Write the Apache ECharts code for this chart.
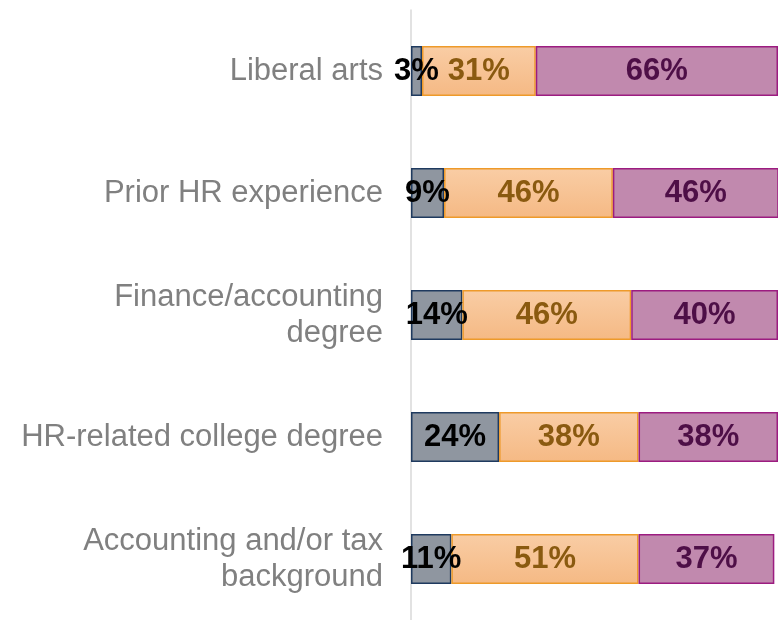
<!DOCTYPE html>
<html>
<head>
<meta charset="utf-8">
<script src="https://cdn.jsdelivr.net/npm/echarts@6/dist/echarts.min.js"></script>
<style>
  html, body { margin: 0; padding: 0; background: #fff; }
  #chart { width: 778px; height: 620px; }
</style>
</head>
<body>
<div id="chart"></div>
<script>
const categories = [
  'Liberal arts',
  'Prior HR experience',
  'Finance/accounting\ndegree',
  'HR-related college degree',
  'Accounting and/or tax\nbackground'
];
const seriesA = [3, 9, 14, 24, 11];
const seriesB = [31, 46, 46, 38, 51];
const seriesC = [66, 46, 40, 38, 37];

const labelBase = {
  show: true,
  position: 'inside',
  fontFamily: 'Liberation Sans, Arial, sans-serif',
  fontSize: 31,
  fontWeight: 'bold',
  formatter: '{c}%'
};

var myChart = echarts.init(document.getElementById('chart'));

var option = {
  animation: false,
  grid: { left: 411, right: -3, top: 10, bottom: -5 },
  xAxis: {
    type: 'value',
    min: 0,
    max: 100,
    show: false
  },
  yAxis: {
    type: 'category',
    inverse: true,
    data: categories,
    axisLine: { show: true, lineStyle: { color: '#D9D9D9', width: 1.5 } },
    axisTick: { show: false },
    axisLabel: {
      color: '#808080',
      fontFamily: 'Liberation Sans, Arial, sans-serif',
      fontSize: 31,
      lineHeight: 36,
      margin: 28,
      align: 'right',
      padding: [6, 0, 0, 0]
    }
  },
  series: [
    {
      type: 'bar',
      stack: 'total',
      barWidth: 50,
      data: seriesA,
      itemStyle: { color: '#8F96A0', borderColor: '#1F3A5F', borderWidth: 1.5 },
      label: Object.assign({}, labelBase, { color: '#000000' })
    },
    {
      type: 'bar',
      stack: 'total',
      data: seriesB,
      itemStyle: {
        color: new echarts.graphic.LinearGradient(0, 0, 0, 1, [
          { offset: 0, color: '#F9CDA5' },
          { offset: 1, color: '#F5B984' }
        ]),
        borderColor: '#EE9A2A',
        borderWidth: 1.5
      },
      label: Object.assign({}, labelBase, { color: '#8A5A10' })
    },
    {
      type: 'bar',
      stack: 'total',
      data: seriesC,
      itemStyle: { color: '#C189AE', borderColor: '#9C1C80', borderWidth: 1.5 },
      label: Object.assign({}, labelBase, { color: '#4E0F47' })
    }
  ]
};

myChart.setOption(option);
</script>
</body>
</html>
